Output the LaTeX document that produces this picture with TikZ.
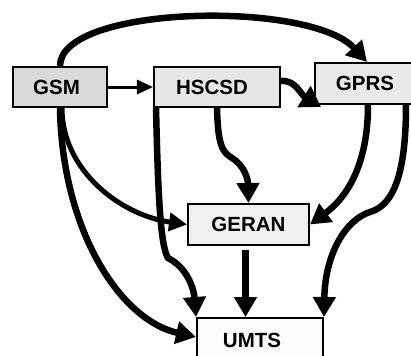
\documentclass[tikz,border=0pt]{standalone}
\usepackage{fontspec}
\setmainfont{Liberation Sans}
\usetikzlibrary{arrows.meta}
\definecolor{fgsm}{HTML}{D9D9D9}
\definecolor{fhs}{HTML}{E6E6E6}
\definecolor{fgp}{HTML}{E8E8E8}
\definecolor{fge}{HTML}{F0F0F0}
\definecolor{fum}{HTML}{FAFAFA}
\begin{document}
\begin{tikzpicture}[x=1bp,y=-1bp,
  box/.style={draw=black,line width=2bp,inner sep=0pt,
    font=\fontsize{20.5bp}{24bp}\selectfont\bfseries},
  big/.style={line width=6.5bp,-{Triangle[length=20bp,width=22bp]}},
  mid/.style={line width=5bp,-{Triangle[length=18bp,width=18bp]}},
  thin/.style={line width=3bp,-{Triangle[length=16bp,width=14bp]}}]
\useasboundingbox (0,0) rectangle (411,356);
\node[box,fill=fgsm,minimum width=94bp,minimum height=40bp] (gsm) at (60,87) {\hspace*{-7bp}GSM};
\node[box,fill=fhs,minimum width=126bp,minimum height=40bp] (hscsd) at (217,87) {\hspace*{-10bp}HSCSD};
\node[box,fill=fgp,minimum width=100bp,minimum height=41bp] (gprs) at (365,83.5) {GPRS};
\node[box,fill=fge,minimum width=121bp,minimum height=41bp] (geran) at (248.5,224.5) {GERAN};
\node[box,fill=fum,minimum width=126bp,minimum height=44bp] (umts) at (260,340) {\hspace*{-16bp}UMTS};
% GSM -> GPRS arc
\draw[big] (gsm.north) .. controls (60,5) and (310,0) .. ([xshift=2bp]gprs.north);
% GSM -> HSCSD
\draw[thin] (gsm.east) -- (hscsd.west);
% HSCSD -> GPRS
\draw[line width=6.5bp,-{Triangle[length=20bp,width=24bp]}] ([yshift=6bp]hscsd.east) .. controls (296,80) and (300,94) .. ([xshift=7bp,yshift=-2bp]gprs.south west);
% GSM -> GERAN
\draw[mid] ([xshift=2bp]gsm.south) .. controls (62,170) and (120,215) .. (geran.west);
% GSM -> UMTS
\draw[big] (gsm.south) .. controls (62,230) and (120,320) .. ([yshift=3bp]umts.west);
% HSCSD left -> UMTS
\draw[big] ([xshift=3bp]hscsd.south west) .. controls (158,190) and (160,245) .. (168,258) .. controls (188,268) and (194,290) .. (umts.north west);
% HSCSD mid -> GERAN
\draw[big] (hscsd.south) .. controls (218,145) and (222,152) .. (232,158) .. controls (245,166) and (248,180) .. (geran.north);
% GPRS -> GERAN
\draw[big] ([xshift=3bp]gprs.south) .. controls (368,160) and (350,195) .. (geran.east);
% GPRS right -> UMTS
\draw[big] ([xshift=41bp]gprs.south) .. controls (406,170) and (395,205) .. (370,212) .. controls (345,220) and (325,255) .. (umts.north east);
% GERAN -> UMTS
\draw[line width=7.5bp,-{Triangle[length=20bp,width=22bp]},shorten <=4bp] ([xshift=-3bp]geran.south) -- ([xshift=-3bp]geran.south |- umts.north);
\end{tikzpicture}
\end{document}
